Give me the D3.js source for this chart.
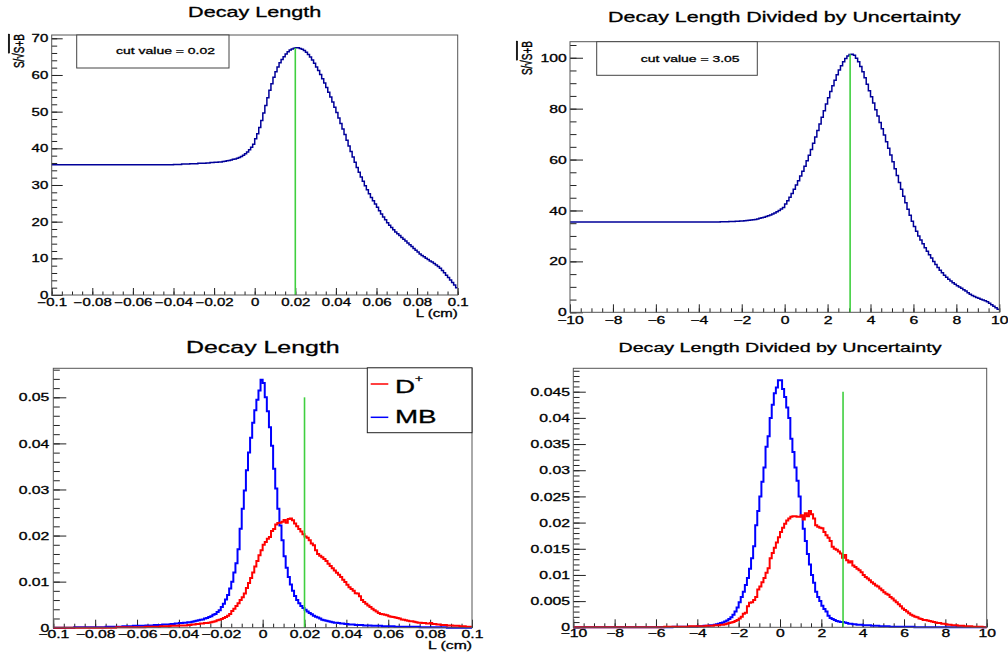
<!DOCTYPE html>
<html>
<head>
<meta charset="utf-8">
<script src="https://cdn.jsdelivr.net/npm/d3@7"></script>
<style>
  body { margin: 0; background: #fff; }
  svg text { font-family: "Liberation Sans", Arial, Helvetica, sans-serif; fill: #000; stroke: #000; stroke-width: 0.3px; }
</style>
</head>
<body>
<svg id="canvas" width="1008" height="653"></svg>
<script>
// ---- data (200 bins per histogram) ----
const lenRange = [-0.1, 0.1];
const sigRange = [-10, 10];

// S/sqrt(S+B) vs cut on decay length
const signifLen = [
  35.5, 35.5, 35.5, 35.5, 35.5, 35.5, 35.5, 35.5, 35.5, 35.5,
  35.5, 35.5, 35.5, 35.5, 35.5, 35.5, 35.5, 35.5, 35.5, 35.5,
  35.5, 35.5, 35.5, 35.5, 35.5, 35.5, 35.5, 35.5, 35.5, 35.5,
  35.5, 35.5, 35.5, 35.5, 35.5, 35.5, 35.5, 35.5, 35.5, 35.5,
  35.5, 35.5, 35.5, 35.5, 35.5, 35.5, 35.5, 35.5, 35.5, 35.5,
  35.5, 35.5, 35.5, 35.5, 35.5, 35.5, 35.5, 35.5, 35.5, 35.5,
  35.6, 35.6, 35.6, 35.6, 35.7, 35.7, 35.7, 35.7, 35.8, 35.8,
  35.8, 35.8, 35.9, 35.9, 35.9, 35.9, 36.0, 36.0, 36.1, 36.1,
  36.2, 36.2, 36.3, 36.3, 36.4, 36.5, 36.6, 36.7, 36.8, 37.0,
  37.1, 37.3, 37.5, 37.8, 38.1, 38.5, 39.0, 39.6, 40.3, 41.1,
  42.6, 44.0, 45.7, 47.6, 49.6, 51.7, 53.8, 55.8, 57.6, 59.4,
  60.9, 62.2, 63.3, 64.2, 65.0, 65.7, 66.3, 66.8, 67.1, 67.3,
  67.4, 67.4, 67.2, 67.0, 66.7, 66.2, 65.6, 64.9, 64.1, 63.2,
  62.2, 61.2, 60.1, 59.0, 57.8, 56.6, 55.3, 54.0, 52.6, 51.2,
  49.8, 48.3, 46.8, 45.3, 43.8, 42.2, 40.6, 39.1, 37.6, 36.2,
  34.8, 33.5, 32.2, 31.0, 29.8, 28.7, 27.6, 26.6, 25.7, 24.8,
  23.9, 23.0, 22.1, 21.3, 20.5, 19.7, 19.0, 18.4, 17.8, 17.2,
  16.7, 16.2, 15.7, 15.2, 14.7, 14.2, 13.7, 13.2, 12.7, 12.2,
  11.7, 11.2, 10.8, 10.4, 10.0, 9.7, 9.3, 9.0, 8.6, 8.2,
  7.8, 7.3, 6.7, 6.1, 5.4, 4.8, 4.1, 3.4, 2.7, 2.0
];

// S/sqrt(S+B) vs cut on decay length / uncertainty
const signifSig = [
  35.5, 35.5, 35.5, 35.5, 35.5, 35.5, 35.5, 35.5, 35.5, 35.5,
  35.5, 35.5, 35.5, 35.5, 35.5, 35.5, 35.5, 35.5, 35.5, 35.5,
  35.5, 35.5, 35.5, 35.5, 35.5, 35.5, 35.5, 35.5, 35.5, 35.5,
  35.5, 35.5, 35.5, 35.5, 35.5, 35.5, 35.5, 35.5, 35.5, 35.5,
  35.5, 35.5, 35.5, 35.5, 35.5, 35.5, 35.5, 35.5, 35.5, 35.5,
  35.5, 35.5, 35.5, 35.5, 35.5, 35.5, 35.5, 35.5, 35.5, 35.5,
  35.5, 35.5, 35.5, 35.5, 35.5, 35.5, 35.5, 35.5, 35.5, 35.5,
  35.6, 35.6, 35.6, 35.6, 35.7, 35.7, 35.7, 35.8, 35.8, 35.9,
  35.9, 36.0, 36.1, 36.2, 36.3, 36.4, 36.5, 36.7, 36.9, 37.1,
  37.3, 37.6, 37.9, 38.2, 38.6, 39.0, 39.5, 40.0, 40.6, 41.2,
  42.5, 43.8, 45.2, 46.7, 48.3, 50.0, 51.7, 53.5, 55.4, 57.4,
  59.5, 61.7, 64.0, 66.4, 68.9, 71.4, 74.0, 76.6, 79.2, 81.8,
  84.3, 86.7, 89.0, 91.2, 93.3, 95.2, 96.9, 98.4, 99.7, 100.7,
  101.3, 101.4, 101.0, 99.8, 98.4, 96.6, 94.5, 92.1, 89.6, 87.0,
  84.7, 82.2, 79.6, 77.1, 74.6, 72.1, 69.6, 67.0, 64.4, 61.8,
  59.1, 56.4, 53.7, 51.0, 48.3, 45.6, 43.0, 40.5, 38.1, 35.8,
  33.7, 31.8, 30.0, 28.4, 26.9, 25.4, 24.0, 22.6, 21.3, 20.0,
  18.8, 17.6, 16.5, 15.5, 14.6, 13.8, 13.0, 12.3, 11.6, 11.0,
  10.4, 9.9, 9.4, 8.9, 8.4, 7.7, 7.1, 6.6, 6.2, 5.8,
  5.5, 5.1, 4.8, 4.5, 4.1, 3.6, 3.0, 2.4, 1.8, 1.2
];

// normalised decay length, MB and D+
const lenMB = [
  0, 0, 0, 0, 0, 0, 0, 0, 0, 0,
  0.0001, 0.0001, 0.0001, 0.0001, 0.0001, 0.0001, 0.0001, 0.0001, 0.0001, 0.0001,
  0.0001, 0.0001, 0.0001, 0.0001, 0.0001, 0.0002, 0.0002, 0.0002, 0.0002, 0.0002,
  0.0002, 0.0002, 0.0002, 0.0003, 0.0003, 0.0003, 0.0003, 0.0003, 0.0004, 0.0004,
  0.0004, 0.0004, 0.0004, 0.0004, 0.0005, 0.0005, 0.0005, 0.0005, 0.0006, 0.0006,
  0.0006, 0.0006, 0.0007, 0.0007, 0.0007, 0.0007, 0.0008, 0.0008, 0.0009, 0.0009,
  0.0010, 0.0010, 0.0011, 0.0011, 0.0012, 0.0012, 0.0013, 0.0014, 0.0015, 0.0016,
  0.0017, 0.0018, 0.0020, 0.0021, 0.0023, 0.0025, 0.0028, 0.0030, 0.0034, 0.0038,
  0.0045, 0.0052, 0.0061, 0.0071, 0.0085, 0.0100, 0.0120, 0.0140, 0.0170, 0.0215,
  0.0258, 0.0298, 0.0342, 0.0380, 0.0412, 0.0445, 0.0472, 0.0495, 0.0515, 0.0538,
  0.0531, 0.0500, 0.0470, 0.0435, 0.0395, 0.0345, 0.0302, 0.0258, 0.0222, 0.0190,
  0.0155, 0.0130, 0.0110, 0.0094, 0.0080, 0.0069, 0.0060, 0.0053, 0.0047, 0.0043,
  0.0039, 0.0035, 0.0032, 0.0029, 0.0026, 0.0024, 0.0022, 0.0020, 0.0017, 0.0016,
  0.0015, 0.0014, 0.0013, 0.0012, 0.0011, 0.0011, 0.0010, 0.0009, 0.0009, 0.0008,
  0.0008, 0.0007, 0.0007, 0.0007, 0.0006, 0.0006, 0.0006, 0.0006, 0.0005, 0.0005,
  0.0005, 0.0005, 0.0004, 0.0004, 0.0004, 0.0004, 0.0004, 0.0003, 0.0003, 0.0003,
  0.0003, 0.0003, 0.0003, 0.0002, 0.0002, 0.0002, 0.0002, 0.0002, 0.0002, 0.0002,
  0.0002, 0.0002, 0.0002, 0.0002, 0.0002, 0.0001, 0.0001, 0.0001, 0.0001, 0.0001,
  0.0001, 0.0001, 0.0001, 0.0001, 0.0001, 0.0001, 0.0001, 0.0001, 0, 0,
  0, 0, 0, 0, 0, 0, 0, 0, 0, 0
];
const lenDplus = [
  0, 0, 0, 0, 0, 0, 0, 0, 0, 0,
  0, 0, 0, 0, 0, 0, 0, 0, 0, 0,
  0, 0, 0, 0, 0, 0, 0, 0, 0, 0,
  0.0001, 0.0001, 0.0001, 0.0001, 0.0001, 0.0001, 0.0001, 0.0001, 0.0001, 0.0001,
  0.0001, 0.0001, 0.0001, 0.0001, 0.0002, 0.0002, 0.0002, 0.0002, 0.0002, 0.0002,
  0.0002, 0.0003, 0.0003, 0.0003, 0.0003, 0.0003, 0.0004, 0.0004, 0.0004, 0.0004,
  0.0005, 0.0005, 0.0005, 0.0005, 0.0006, 0.0006, 0.0007, 0.0007, 0.0008, 0.0008,
  0.0009, 0.0009, 0.0010, 0.0010, 0.0011, 0.0012, 0.0013, 0.0014, 0.0016, 0.0017,
  0.0019, 0.0021, 0.0023, 0.0026, 0.0030, 0.0036, 0.0041, 0.0047, 0.0053, 0.0060,
  0.0066, 0.0074, 0.0086, 0.0097, 0.0108, 0.0120, 0.0133, 0.0145, 0.0157, 0.0168,
  0.0180, 0.0186, 0.0193, 0.0197, 0.0210, 0.0214, 0.0224, 0.0227, 0.0228, 0.0230,
  0.0234, 0.0228, 0.0236, 0.0237, 0.0233, 0.0226, 0.0220, 0.0214, 0.0209, 0.0203,
  0.0198, 0.0195, 0.0190, 0.0183, 0.0179, 0.0168, 0.0160, 0.0156, 0.0153, 0.0149,
  0.0145, 0.0139, 0.0134, 0.0129, 0.0124, 0.0119, 0.0115, 0.0110, 0.0104, 0.0099,
  0.0093, 0.0088, 0.0084, 0.0080, 0.0075, 0.0074, 0.0068, 0.0060, 0.0056, 0.0052,
  0.0048, 0.0045, 0.0041, 0.0038, 0.0035, 0.0032, 0.0030, 0.0029, 0.0028, 0.0027,
  0.0025, 0.0024, 0.0023, 0.0022, 0.0021, 0.0020, 0.0018, 0.0017, 0.0016, 0.0015,
  0.0014, 0.0014, 0.0013, 0.0012, 0.0011, 0.0011, 0.0010, 0.0010, 0.0009, 0.0009,
  0.0010, 0.0008, 0.0008, 0.0007, 0.0007, 0.0006, 0.0006, 0.0006, 0.0005, 0.0005,
  0.0005, 0.0004, 0.0004, 0.0004, 0.0003, 0.0003, 0.0003, 0.0002, 0.0002, 0.0002
];

// normalised decay length / uncertainty, MB and D+
const sigMB = [
  0, 0, 0, 0, 0, 0, 0, 0, 0, 0,
  0, 0, 0, 0, 0, 0, 0, 0, 0, 0,
  0, 0, 0, 0, 0, 0, 0, 0, 0, 0,
  0, 0, 0, 0, 0, 0, 0, 0, 0, 0,
  0, 0, 0, 0, 0, 0, 0, 0, 0.0001, 0.0001,
  0.0001, 0.0001, 0.0001, 0.0001, 0.0001, 0.0001, 0.0001, 0.0001, 0.0001, 0.0001,
  0.0002, 0.0002, 0.0002, 0.0003, 0.0003, 0.0003, 0.0004, 0.0004, 0.0005, 0.0006,
  0.0007, 0.0008, 0.0009, 0.0011, 0.0013, 0.0016, 0.0019, 0.0024, 0.0030, 0.0038,
  0.0048, 0.0058, 0.0068, 0.0081, 0.0094, 0.0112, 0.0132, 0.0155, 0.0195, 0.0222,
  0.0250, 0.0278, 0.0305, 0.0345, 0.0365, 0.0400, 0.0425, 0.0447, 0.0458, 0.0472,
  0.0472, 0.0455, 0.0440, 0.0420, 0.0400, 0.0360, 0.0335, 0.0305, 0.0280, 0.0250,
  0.0212, 0.0188, 0.0165, 0.0140, 0.0120, 0.0100, 0.0085, 0.0068, 0.0058, 0.0050,
  0.0041, 0.0035, 0.0030, 0.0022, 0.0018, 0.0016, 0.0014, 0.0012, 0.0011, 0.0010,
  0.0010, 0.0009, 0.0008, 0.0007, 0.0007, 0.0006, 0.0006, 0.0005, 0.0005, 0.0005,
  0.0004, 0.0004, 0.0004, 0.0004, 0.0003, 0.0003, 0.0003, 0.0003, 0.0002, 0.0002,
  0.0002, 0.0002, 0.0002, 0.0001, 0.0001, 0.0001, 0.0001, 0.0001, 0.0001, 0.0001,
  0.0001, 0.0001, 0.0001, 0.0001, 0.0001, 0, 0, 0, 0, 0,
  0, 0, 0, 0, 0, 0, 0, 0, 0, 0,
  0, 0, 0, 0, 0, 0, 0, 0, 0, 0,
  0, 0, 0, 0, 0, 0, 0, 0, 0, 0
];
const sigDplus = [
  0, 0, 0, 0, 0, 0, 0, 0, 0, 0,
  0, 0, 0, 0, 0, 0, 0, 0, 0, 0,
  0, 0, 0, 0, 0, 0, 0, 0, 0, 0,
  0, 0, 0, 0, 0, 0, 0, 0, 0, 0,
  0, 0, 0, 0, 0.0001, 0.0001, 0.0001, 0.0001, 0.0001, 0.0001,
  0.0001, 0.0001, 0.0001, 0.0001, 0.0001, 0.0001, 0.0002, 0.0002, 0.0002, 0.0002,
  0.0002, 0.0002, 0.0002, 0.0002, 0.0003, 0.0003, 0.0003, 0.0003, 0.0004, 0.0004,
  0.0004, 0.0005, 0.0005, 0.0006, 0.0007, 0.0008, 0.0009, 0.0010, 0.0012, 0.0014,
  0.0017, 0.0020, 0.0026, 0.0028, 0.0040, 0.0047, 0.0048, 0.0052, 0.0058, 0.0072,
  0.0078, 0.0086, 0.0094, 0.0104, 0.0113, 0.0132, 0.0142, 0.0152, 0.0162, 0.0172,
  0.0182, 0.0190, 0.0198, 0.0204, 0.0208, 0.0211, 0.0212, 0.0212, 0.0211, 0.0211,
  0.0214, 0.0206, 0.0218, 0.0212, 0.0222, 0.0216, 0.0208, 0.0195, 0.0192, 0.0190,
  0.0189, 0.0182, 0.0176, 0.0171, 0.0165, 0.0154, 0.0150, 0.0148, 0.0145, 0.0141,
  0.0133, 0.0138, 0.0128, 0.0124, 0.0126, 0.0118, 0.0115, 0.0112, 0.0109, 0.0105,
  0.0100, 0.0096, 0.0093, 0.0090, 0.0086, 0.0083, 0.0080, 0.0078, 0.0074, 0.0071,
  0.0067, 0.0064, 0.0062, 0.0058, 0.0055, 0.0051, 0.0048, 0.0044, 0.0040, 0.0036,
  0.0033, 0.0030, 0.0027, 0.0024, 0.0022, 0.0020, 0.0019, 0.0017, 0.0016, 0.0014,
  0.0014, 0.0013, 0.0012, 0.0011, 0.0010, 0.0009, 0.0008, 0.0008, 0.0007, 0.0007,
  0.0006, 0.0005, 0.0005, 0.0004, 0.0004, 0.0004, 0.0003, 0.0003, 0.0003, 0.0002,
  0.0002, 0.0002, 0.0002, 0.0001, 0.0001, 0.0001, 0.0001, 0.0001, 0, 0
];

const cutLen = 0.02;
const cutSig = 3.05;
const cutLineLen = 0.05;   // green line heights in the lower pads
const cutLineSig = 0.045;

const lenTicks = [-0.1, -0.08, -0.06, -0.04, -0.02, 0, 0.02, 0.04, 0.06, 0.08, 0.1];
const sigTicks = [-10, -8, -6, -4, -2, 0, 2, 4, 6, 8, 10];
const signifLenTicks = [0, 10, 20, 30, 40, 50, 60, 70];
const signifSigTicks = [0, 20, 40, 60, 80, 100];
const lenFracTicks = [0, 0.01, 0.02, 0.03, 0.04, 0.05];
const sigFracTicks = [0, 0.005, 0.01, 0.015, 0.02, 0.025, 0.03, 0.035, 0.04, 0.045];

// ---- drawing ----
const SX = 1.5; // the picture is squashed vertically, so text is wide
const svg = d3.select('#canvas');
const fmt = d3.format("");

const label = (g, x, y, txt, size, anchor) => g.append("text")
  .attr("transform", `translate(${x},${y}) scale(${SX},1)`)
  .attr("text-anchor", anchor || "start")
  .attr("font-size", size)
  .text(txt);

const binPoints = (values, range) => {
  const w = (range[1] - range[0]) / values.length;
  const pts = values.map((v, i) => [range[0] + i * w, v]);
  pts.push([range[1], values[values.length - 1]]);
  return pts;
};

const minorRange = (lo, hi, step) =>
  d3.range(0, Math.round((hi - lo) / step) + 1).map(i => +(lo + i * step).toFixed(6));

const drawPad = (p) => {
  const g = svg.append("g");
  const x = d3.scaleLinear().domain(p.xRange).range([p.x0, p.x1]);
  const y = d3.scaleLinear().domain([0, p.yMax]).range([p.y1, p.y0]);

  // minor + major ticks, pointing into the frame
  g.append("g").attr("transform", `translate(0,${p.y1})`)
    .call(d3.axisBottom(x).tickValues(minorRange(p.xRange[0], p.xRange[1], p.xMinor))
      .tickSize(-p.xTick / 2).tickSizeOuter(0).tickFormat(""))
    .call(a => a.select(".domain").remove());
  const xa = g.append("g").attr("transform", `translate(0,${p.y1})`)
    .call(d3.axisBottom(x).tickValues(p.xTicks).tickSize(-p.xTick).tickSizeOuter(0).tickFormat(fmt))
    .call(a => a.select(".domain").remove());
  xa.selectAll(".tick text")
    .attr("y", null).attr("dy", null).attr("x", null)
    .attr("font-size", p.tickFont)
    .attr("transform", `translate(0,${p.xLabDy}) scale(${SX},1)`);

  g.append("g").attr("transform", `translate(${p.x0},0)`)
    .call(d3.axisLeft(y).tickValues(minorRange(0, p.yMax - p.yMax % p.yMinor, p.yMinor))
      .tickSize(-p.yTick / 2).tickSizeOuter(0).tickFormat(""))
    .call(a => a.select(".domain").remove());
  const ya = g.append("g").attr("transform", `translate(${p.x0},0)`)
    .call(d3.axisLeft(y).tickValues(p.yTicks).tickSize(-p.yTick).tickSizeOuter(0).tickFormat(fmt))
    .call(a => a.select(".domain").remove());
  ya.selectAll(".tick text")
    .attr("x", null).attr("dy", null)
    .attr("font-size", p.tickFont)
    .attr("text-anchor", "end")
    .attr("transform", `translate(${p.yLabDx},3.6) scale(${SX},1)`);

  g.selectAll(".tick line").attr("stroke", "#222");

  // histograms
  const line = d3.line().x(d => x(d[0])).y(d => y(d[1])).curve(d3.curveStepAfter);
  p.series.forEach(s => {
    g.append("path")
      .datum(binPoints(s.values, p.xRange))
      .attr("d", line)
      .attr("fill", "none")
      .attr("stroke", s.color)
      .attr("stroke-width", s.width);
  });

  // cut line
  g.append("line")
    .attr("x1", x(p.cut)).attr("x2", x(p.cut))
    .attr("y1", y(0)).attr("y2", y(p.cutTop))
    .attr("stroke", "#3fcf3f").attr("stroke-width", 1.6);

  // frame
  g.append("rect")
    .attr("x", p.x0).attr("y", p.y0)
    .attr("width", p.x1 - p.x0).attr("height", p.y1 - p.y0)
    .attr("fill", "none").attr("stroke", "#555").attr("stroke-width", 1);

  label(g, (p.x0 + p.x1) / 2 + p.titleDx, p.titleY, p.title, p.titleFont, "middle");
  if (p.xTitle) label(g, p.x1, p.xTitleY, p.xTitle, p.tickFont, "end");
  return { g, x, y };
};

const sqrtTitle = (g, xPos, yTop) => {
  const t = g.append("text")
    .attr("transform", `translate(${xPos},${yTop}) rotate(-90) scale(1,${SX})`)
    .attr("text-anchor", "end")
    .attr("font-size", 10);
  t.append("tspan").text("S/√");
  t.append("tspan").attr("text-decoration", "overline").text("S+B");
};

const cutBox = (g, x0, y0, x1, y1, txt, tx, ty) => {
  g.append("rect")
    .attr("x", x0).attr("y", y0).attr("width", x1 - x0).attr("height", y1 - y0)
    .attr("fill", "#fff").attr("stroke", "#444").attr("stroke-width", 1);
  label(g, tx, ty, txt, 9.3, "middle");
};

// top-left
const p1 = drawPad({
  x0: 51.7, x1: 457.7, y0: 35, y1: 295, xRange: lenRange, yMax: 70.9,
  xTicks: lenTicks, xMinor: 0.005, yTicks: signifLenTicks, yMinor: 2,
  xTick: 7, yTick: 11, tickFont: 10, xLabDy: 11, yLabDx: -3.4,
  series: [{ values: signifLen, color: "#000099", width: 1.5 }],
  cut: cutLen, cutTop: d3.max(signifLen),
  title: "Decay Length", titleFont: 14.4, titleY: 17.3, titleDx: 0,
  xTitle: "L (cm)", xTitleY: 316.5
});
sqrtTitle(p1.g, 23.5, 34);
cutBox(p1.g, 76.7, 35, 229, 68, "cut value = 0.02", 165.5, 54.3);

// top-right
const p2 = drawPad({
  x0: 570, x1: 999.3, y0: 41.7, y1: 312.3, xRange: sigRange, yMax: 106.3,
  xTicks: sigTicks, xMinor: 0.5, yTicks: signifSigTicks, yMinor: 5,
  xTick: 8, yTick: 13, tickFont: 10.5, xLabDy: 11.7, yLabDx: -3.3,
  series: [{ values: signifSig, color: "#000099", width: 1.5 }],
  cut: cutSig, cutTop: d3.max(signifSig),
  title: "Decay Length Divided by Uncertainty", titleFont: 14.3, titleY: 21.7, titleDx: -0.2
});
sqrtTitle(p2.g, 531.5, 41);
cutBox(p2.g, 596.7, 41.7, 757.3, 75.3, "cut value = 3.05", 690.2, 61.7);

// bottom-left
const p3 = drawPad({
  x0: 53.3, x1: 472, y0: 368.3, y1: 627.7, xRange: lenRange, yMax: 0.0563,
  xTicks: lenTicks, xMinor: 0.005, yTicks: lenFracTicks, yMinor: 0.002,
  xTick: 8, yTick: 13, tickFont: 10.5, xLabDy: 10.6, yLabDx: -4,
  series: [
    { values: lenMB, color: "#0000ff", width: 2 },
    { values: lenDplus, color: "#ff0000", width: 2 }
  ],
  cut: cutLen, cutTop: cutLineLen,
  title: "Decay Length", titleFont: 16.6, titleY: 352.7, titleDx: 0.2,
  xTitle: "L (cm)", xTitleY: 649
});

// legend
const leg = p3.g.append("g");
leg.append("rect")
  .attr("x", 367.3).attr("y", 367.8).attr("width", 472 - 367.3).attr("height", 432.7 - 367.8)
  .attr("fill", "#fff").attr("stroke", "#222").attr("stroke-width", 1);
const legend = [
  { name: "D", sup: "+", color: "#ff0000", y: 384, base: 393.3 },
  { name: "MB", sup: "", color: "#0000ff", y: 417.3, base: 423.3 }
];
legend.forEach(e => {
  leg.append("line").attr("x1", 370.7).attr("x2", 388.3).attr("y1", e.y).attr("y2", e.y)
    .attr("stroke", e.color).attr("stroke-width", 1.5);
  label(leg, 395, e.base, e.name, 18.5, "start");
  if (e.sup) label(leg, 415, 382, e.sup, 9, "start");
});

// bottom-right
drawPad({
  x0: 573.3, x1: 986.7, y0: 368.3, y1: 627.3, xRange: sigRange, yMax: 0.04947,
  xTicks: sigTicks, xMinor: 0.5, yTicks: sigFracTicks, yMinor: 0.001,
  xTick: 8, yTick: 12.5, tickFont: 10.5, xLabDy: 10, yLabDx: -3.3,
  series: [
    { values: sigMB, color: "#0000ff", width: 2 },
    { values: sigDplus, color: "#ff0000", width: 2 }
  ],
  cut: cutSig, cutTop: cutLineSig,
  title: "Decay Length Divided by Uncertainty", titleFont: 13.1, titleY: 351.7, titleDx: 0
});
</script>
</body>
</html>
